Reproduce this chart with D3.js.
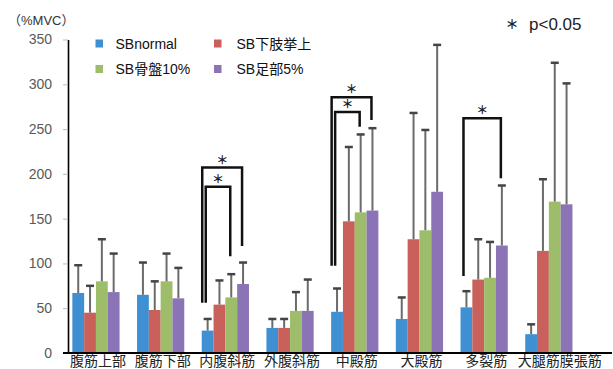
<!DOCTYPE html>
<head>
  <meta charset="utf-8">
  <title>%MVC</title>
  <style>
    body { margin: 0; background: #fff; }
    text { font-family: "Liberation Sans", "Noto Sans CJK JP", sans-serif; }
  </style>
</head>
<body>
<script src="https://d3js.org/d3.v7.min.js"></script>
<script>
// categories and series
var categories = ["腹筋上部", "腹筋下部", "内腹斜筋", "外腹斜筋", "中殿筋", "大殿筋", "多裂筋", "大腿筋膜張筋"];
var series = ["SBnormal", "SB下肢挙上", "SB骨盤10%", "SB足部5%"];
var colors = ["#3e90d3", "#c9605a", "#9dbd6a", "#8a74b6"];

// means (%MVC)
var sbNormal = [67, 65, 25, 28, 46, 38, 51, 21];
var sbLeg    = [45, 48, 54, 28, 147, 127, 82, 114];
var sbPelvis = [80, 80, 62, 47, 157, 137, 84, 169];
var sbFoot   = [68, 61, 77, 47, 159, 180, 120, 166];

// standard deviations (upper error bar only)
var sdNormal = [31, 36, 13, 10, 26, 24, 18, 11];
var sdLeg    = [30, 32, 27, 10, 83, 141, 45, 80];
var sdPelvis = [47, 31, 26, 21, 87, 112, 40, 155];
var sdFoot   = [43, 34, 24, 35, 92, 164, 67, 135];

var yTicks = [0, 50, 100, 150, 200, 250, 300, 350];

// significance brackets: top / left end / right end in %MVC units
var brackets = [
  {cat: "内腹斜筋", from: 0, to: 3, lvl: 1, top: 207, left: 56, right: 119.5},
  {cat: "内腹斜筋", from: 0, to: 2, lvl: 0, top: 185.7, left: 56, right: 108},
  {cat: "中殿筋",   from: 0, to: 3, lvl: 1, top: 285.5, left: 97.5, right: 260},
  {cat: "中殿筋",   from: 0, to: 2, lvl: 0, top: 269, left: 97.5, right: 252.7},
  {cat: "多裂筋",   from: 0, to: 3, lvl: 0.3, top: 262, left: 86, right: 195}
];

var means = [sbNormal, sbLeg, sbPelvis, sbFoot];
var sds = [sdNormal, sdLeg, sdPelvis, sdFoot];

var width = 613, height = 369;

var svg = d3.select("body").append("svg")
    .attr("width", width)
    .attr("height", height);

var x0 = d3.scaleBand()
    .domain(categories)
    .range([63.6, 581.2])
    .paddingInner(0.27)
    .paddingOuter(0.135);

var x1 = d3.scaleBand()
    .domain(series)
    .range([0, x0.bandwidth()]);

var y = d3.scaleLinear()
    .domain([0, 350])
    .range([353, 39.5]);

// flatten into one row per bar
var rows = [];
categories.forEach(function(c, i) {
  series.forEach(function(s, j) {
    rows.push({cat: c, s: s, j: j, v: means[j][i], sd: sds[j][i]});
  });
});

// y axis
var yAxis = svg.append("g")
    .attr("transform", "translate(68,0)")
    .call(d3.axisLeft(y).tickValues(yTicks).tickSize(5).tickPadding(11).tickSizeOuter(0));
yAxis.select(".domain").attr("stroke", "#000").attr("stroke-width", 1.6);
yAxis.selectAll(".tick line").attr("stroke", "#bbb");
yAxis.selectAll(".tick text")
    .attr("fill", "#595959")
    .style("font-size", "14px");

// bars
svg.append("g").selectAll("rect")
    .data(rows)
  .enter().append("rect")
    .attr("x", function(d) { return x0(d.cat) + x1(d.s); })
    .attr("y", function(d) { return y(d.v); })
    .attr("width", x1.bandwidth())
    .attr("height", function(d) { return y(0) - y(d.v); })
    .attr("fill", function(d) { return colors[d.j]; });

// error bars
var err = svg.append("g").selectAll("g")
    .data(rows)
  .enter().append("g")
    .attr("transform", function(d) { return "translate(" + (x0(d.cat) + x1(d.s) + x1.bandwidth() / 2) + ",0)"; });
err.append("line")
    .attr("y1", function(d) { return y(d.v); })
    .attr("y2", function(d) { return y(d.v + d.sd); })
    .attr("stroke", "#6b6b6b")
    .attr("stroke-width", 2);
err.append("line")
    .attr("x1", -4).attr("x2", 4)
    .attr("y1", function(d) { return y(d.v + d.sd); })
    .attr("y2", function(d) { return y(d.v + d.sd); })
    .attr("stroke", "#444")
    .attr("stroke-width", 2.5);

// baseline
svg.append("line")
    .attr("x1", 63).attr("x2", 612)
    .attr("y1", y(0)).attr("y2", y(0))
    .attr("stroke", "#000")
    .attr("stroke-width", 2);

// category labels
svg.append("g").selectAll("text")
    .data(categories)
  .enter().append("text")
    .attr("x", function(d, i) { return x0(d) + x0.bandwidth() / 2 + (i == categories.length - 1 ? 11 : 2); })
    .attr("y", 366)
    .attr("text-anchor", "middle")
    .attr("fill", "#222")
    .style("font-size", "14px")
    .text(function(d) { return d; });

// significance brackets
function leftX(d) { return x0(d.cat) + x1(series[d.from]) + 4 - 3.5 * d.lvl; }
function rightX(d) { return x0(d.cat) + x1(series[d.to]) + x1.bandwidth() / 2 - 1; }

var br = svg.append("g").selectAll("g")
    .data(brackets)
  .enter().append("g");
br.append("path")
    .attr("fill", "none")
    .attr("stroke", "#111")
    .attr("stroke-width", 2.5)
    .attr("d", function(d) {
      return "M" + leftX(d) + "," + y(d.left) + "V" + y(d.top) + "H" + rightX(d) + "V" + y(d.right);
    });
br.append("text")
    .attr("x", function(d) { return (leftX(d) + rightX(d)) / 2; })
    .attr("y", function(d) { return y(d.top) - 3; })
    .attr("text-anchor", "middle")
    .attr("fill", "#222")
    .style("font-size", "12px")
    .style("font-weight", "bold")
    .style("font-family", "'Noto Sans CJK JP'")
    .text("＊");

// legend
var legend = svg.append("g").selectAll("g")
    .data(series)
  .enter().append("g")
    .attr("transform", function(d, i) {
      return "translate(" + (i % 2 ? 214 : 95.5) + "," + (i < 2 ? 43.5 : 69) + ")";
    });
legend.append("rect")
    .attr("x", 0).attr("y", -4)
    .attr("width", 7.5).attr("height", 8)
    .attr("fill", function(d, i) { return colors[i]; });
legend.append("text")
    .attr("x", function(d, i) { return i % 2 ? 22.5 : 20; })
    .attr("y", 0)
    .attr("dominant-baseline", "central")
    .attr("fill", "#111")
    .style("font-size", "14px")
    .text(function(d) { return d; });

// unit label
svg.append("text")
    .attr("x", 8).attr("y", 20)
    .attr("dominant-baseline", "central")
    .attr("fill", "#333")
    .style("font-size", "13px")
    .text("（%MVC）");

// p-value note
svg.append("text")
    .attr("x", 512).attr("y", 29)
    .attr("text-anchor", "middle")
    .attr("fill", "#222")
    .style("font-size", "13px")
    .style("font-weight", "bold")
    .style("font-family", "'Noto Sans CJK JP'")
    .text("＊");
svg.append("text")
    .attr("x", 529).attr("y", 24)
    .attr("dominant-baseline", "central")
    .attr("fill", "#222")
    .style("font-size", "17px")
    .text("p<0.05");
</script>
</body>
